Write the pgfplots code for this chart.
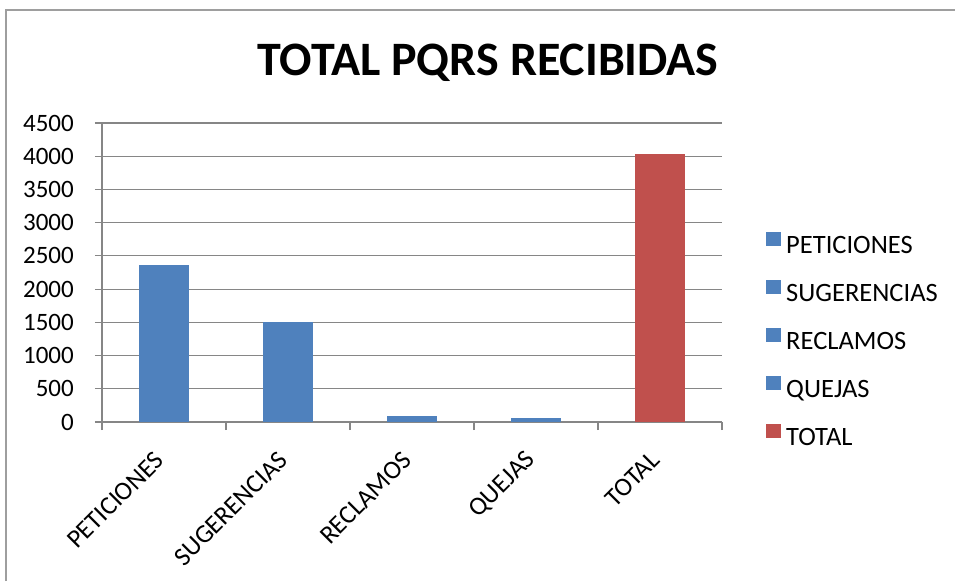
\documentclass[border=0pt]{standalone}
\usepackage{pgfplots}
\pgfplotsset{compat=1.18}
\usepackage{fontspec}
\setmainfont{Carlito}
\definecolor{barblue}{HTML}{4F81BD}
\definecolor{barred}{HTML}{C0504D}
\definecolor{axgray}{HTML}{868686}
\begin{document}
\begin{tikzpicture}[x=1pt,y=1pt]
\useasboundingbox (0,0) rectangle (955,581);
\draw[axgray!80,line width=1.5pt] (6,0) -- (6,571) -- (955,571);
\node[font=\bfseries\fontsize{48}{54}\selectfont] at (488,518) {TOTAL PQRS RECIBIDAS};
\begin{axis}[
  at={(102pt,159pt)}, anchor=south west,
  scale only axis, width=620pt, height=299pt,
  xmin=-0.5, xmax=4.5, ymin=0, ymax=4500,
  ytick={0,500,...,4500},
  xtick={0,1,2,3,4},
  xticklabels={PETICIONES,SUGERENCIAS,RECLAMOS,QUEJAS,TOTAL},
  minor xtick={-0.5,0.5,1.5,2.5,3.5,4.5},
  axis lines*=left,
  axis line style={axgray,line width=1.2pt,-},
  ymajorgrids, grid style={axgray,line width=1.2pt},
  major x tick style={draw=none},
  minor x tick style={axgray,line width=1.2pt},
  major y tick style={axgray,line width=1.2pt},
  tick align=outside, major tick length=7pt, minor tick length=8pt,
  /pgf/number format/assume math mode=true,
  /pgf/number format/1000 sep={},
  yticklabel style={font=\fontsize{25}{30}\selectfont, inner sep=0pt, xshift=-21pt},
  xticklabel style={font=\fontsize{26}{30}\selectfont, xshift=-4.5pt, yshift=-27pt, rotate=45, anchor=east, inner sep=0pt},
  ybar, bar width=50pt, bar shift=0pt,
  legend image code/.code={\fill[#1,draw=none] (0pt,1pt) rectangle (15pt,15pt);},
  legend cell align=left,
  legend style={draw=none, fill=none, at={(1.071,0.635)}, anchor=north west,
    inner sep=0pt, row sep=22pt,
    nodes={inner sep=0pt, inner xsep=5pt, text height=17pt, text depth=5pt, font=\fontsize{26.5}{30}\selectfont}},
]
\addplot[fill=barblue,draw=none] coordinates {(0,2363)};
\addplot[fill=barblue,draw=none] coordinates {(1,1505)};
\addplot[fill=barblue,draw=none] coordinates {(2,95)};
\addplot[fill=barblue,draw=none] coordinates {(3,65)};
\addplot[fill=barred,draw=none] coordinates {(4,4028)};
\legend{PETICIONES,SUGERENCIAS,RECLAMOS,QUEJAS,TOTAL}
\end{axis}
\end{tikzpicture}
\end{document}
